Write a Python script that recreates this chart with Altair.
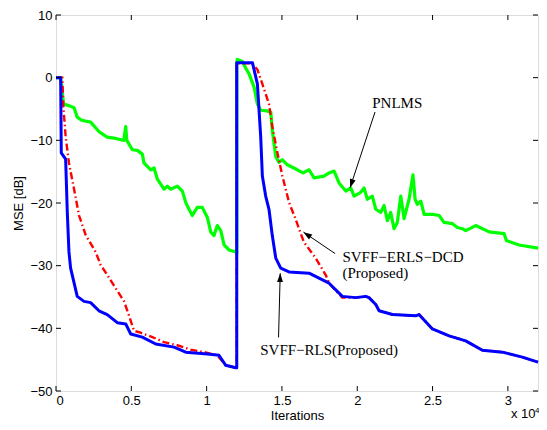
import altair as alt
import pandas as pd
import numpy as np

# ---------------- data ----------------
pnlms_x = [0, 300, 400, 500, 900, 1200, 1410, 1700, 2300, 2850, 3400, 3960, 4500, 4630, 4700,
           5070, 5400, 5730, 5840, 6290, 6510, 6730, 7170, 7390, 7610, 8050, 8390, 8610, 8830,
           9050, 9380, 9710, 10050, 10270, 10490, 10710, 10940, 11160, 11490, 11930, 12000,
           12000, 12040, 12370, 12600, 12820, 13150, 13370, 13590, 14000, 14260, 14360, 14590,
           14800, 15030, 15360, 16020, 16400, 16800, 17130, 17790, 18130, 18460, 18570, 18790,
           19240, 19570, 19790, 20230, 20450, 20670, 21000, 21230, 21560, 21780, 22000, 22220,
           22440, 22660, 22890, 23110, 23440, 23700, 23840, 23990, 24220, 24440, 24990, 25430,
           25760, 26320, 26650, 26980, 27200, 27870, 28750, 29750, 29900, 30740, 32000]
pnlms_y = [0, 0, -2.0, -4.2, -4.5, -4.8, -6.3, -6.8, -7.1, -8.6, -9.5, -9.7, -10.0, -7.8, -10.0,
           -11.5, -11.6, -12.2, -13.6, -14.7, -14.4, -16.2, -17.8, -17.3, -17.8, -17.3, -18.1, -19.9, -21.0,
           -22.0, -20.7, -20.7, -22.3, -24.6, -25.2, -23.6, -24.4, -26.7, -27.5, -27.8, -28.0,
           2.5, 2.9, 2.6, 1.5, 0.6, -1.5, -4.2, -5.2, -5.3, -5.5, -8.4, -12.6,
           -13.5, -13.1, -13.9, -14.7, -15.2, -14.7, -16.0, -15.7, -15.2, -14.9, -15.5, -16.8,
           -18.1, -17.6, -18.9, -18.3, -17.6, -19.4, -18.9, -21.0, -21.5, -20.4, -22.8, -21.5,
           -24.1, -23.1, -18.9, -22.5, -19.4, -15.5, -19.4, -20.2, -19.7, -21.8, -21.8, -22.0,
           -23.1, -23.3, -23.9, -24.1, -24.4, -23.6, -24.6, -24.9, -26.0, -26.7, -27.2]

erls_x = [0, 420, 490, 640, 860, 1200, 1530, 1970, 2630, 2970, 3410, 3960, 4520, 4850, 5180,
          5620, 6400, 7170, 8050, 8940, 9830, 10710, 11270, 11930, 12000,
          12000, 13000, 13370, 13700, 14140, 14360, 14700, 15030, 15470, 15910, 16450, 17240,
          17910, 18130, 19010, 19900, 20570, 20780, 21230, 21450, 22330, 23880, 24100, 24990,
          26100, 27200, 28310, 29640, 30960, 32000]
erls_y = [0, 0, -4.7, -9.4, -13.6, -17.8, -22.0, -25.1, -27.8, -29.9, -31.5, -33.6, -35.7, -38.0, -40.4,
          -40.7, -41.4, -42.2, -42.7, -43.4, -43.8, -44.3, -45.9, -46.3, -46.3,
          2.3, 2.3, 1.3, -1.0, -4.2, -7.8, -12.0, -15.7, -19.9, -22.6, -26.2, -28.8,
          -31.5, -32.8, -35.1, -35.1, -34.9, -35.1, -36.2, -37.2, -37.8, -38.0, -37.8, -40.1,
          -41.2, -42.0, -43.5, -43.8, -44.6, -45.4]

rls_x = [0, 310, 350, 640, 750, 860, 970, 1410, 1860, 2300, 2850, 3400, 4070, 4630, 4960,
         5730, 6620, 7840, 8610, 10050, 10820, 11270, 11930, 12000,
         12000, 13040, 13370, 13480, 13590, 13700, 13920, 14140, 14360, 14590, 14920, 15470,
         16800, 17460, 18130, 19010, 19900, 20570, 20780, 21230, 21450, 22330, 23880, 24100,
         24990, 26100, 27200, 28310, 29640, 30960, 32000]
rls_y = [0, 0, -12.0, -13.0, -21.5, -27.8, -30.4, -34.9, -35.7, -35.9, -37.2, -37.8, -39.1, -39.3, -40.9,
         -41.4, -42.5, -43.0, -43.8, -44.1, -44.3, -45.9, -46.3, -46.3,
         2.4, 2.4, -1.0, -5.2, -9.4, -15.7, -18.9, -21.0, -25.2, -28.8, -30.4, -31.0,
         -31.2, -32.0, -32.8, -34.9, -35.1, -34.9, -35.1, -36.2, -37.2, -37.8, -38.0, -37.8,
         -40.1, -41.2, -42.0, -43.5, -43.8, -44.6, -45.4]

x_ticks = [0, 5000, 10000, 15000, 20000, 25000, 30000]
y_ticks = [-50, -40, -30, -20, -10, 0, 10]

# annotations: text labels and arrows (start -> tip), in data units
label_text = ["PNLMS", "SVFF\u2212ERLS\u2212DCD", "(Proposed)", "SVFF\u2212RLS(Proposed)"]
label_x = [22658, 19014, 19014, 13561]
label_y = [-4.1, -28.6, -31.1, -43.47]
label_align = ["center", "left", "left", "left"]

arrow_x1 = [21180, 18530, 14774]
arrow_y1 = [-5.48, -28.07, -41.45]
arrow_x2 = [19524, 16430, 14886]
arrow_y2 = [-17.56, -24.65, -31.22]

# ---------------- chart ----------------
W, H = 482, 376
X_MAX = 32000
Y_MIN, Y_MAX = -50, 10
FONT = "Liberation Sans"
SERIF = "Liberation Serif"

xs = alt.Scale(domain=[0, X_MAX], nice=False, zero=False)
ys = alt.Scale(domain=[Y_MIN, Y_MAX], nice=False, zero=False)


def sdf(xv, yv):
    return pd.DataFrame({"x": xv, "y": yv, "i": list(range(len(xv)))})


x_axis = alt.Axis(values=x_ticks, labelExpr="'' + datum.value / 10000", ticks=False,
                  domain=False, grid=False, labelPadding=3, labelFontSize=13, labelFont=FONT,
                  labelColor="black", title="Iterations", titleFont=FONT, titleFontSize=13,
                  titleFontWeight="normal", titleColor="black", titleY=28,
                  titleBaseline="alphabetic")
y_axis = alt.Axis(values=y_ticks, ticks=False, domain=False, grid=False, labelPadding=4,
                  labelFontSize=13, labelFont=FONT, labelColor="black", title="MSE [dB]",
                  titleFont=FONT, titleFontSize=13, titleFontWeight="normal",
                  titleColor="black", titleX=-38, titleBaseline="middle")

green = alt.Chart(sdf(pnlms_x, pnlms_y)).mark_line(
    color="#00ff00", strokeWidth=3.2, strokeJoin="round").encode(
    x=alt.X("x:Q", scale=xs, axis=x_axis),
    y=alt.Y("y:Q", scale=ys, axis=y_axis),
    order="i:Q")

red = alt.Chart(sdf(erls_x, erls_y)).mark_line(
    color="#ff0000", strokeWidth=2.4, strokeDash=[7, 3, 1.5, 3]).encode(
    x=alt.X("x:Q", scale=xs), y=alt.Y("y:Q", scale=ys), order="i:Q")

blue = alt.Chart(sdf(rls_x, rls_y)).mark_line(
    color="#0000ff", strokeWidth=3, strokeJoin="round").encode(
    x=alt.X("x:Q", scale=xs), y=alt.Y("y:Q", scale=ys), order="i:Q")

# inward ticks on all four sides (MATLAB style)
xt = pd.DataFrame({"t": x_ticks})
yt = pd.DataFrame({"t": y_ticks})
tick_style = dict(color="black", strokeWidth=1)
xt_bot = alt.Chart(xt).mark_rule(**tick_style).encode(
    x=alt.X("t:Q", scale=xs), y=alt.value(H), y2=alt.value(H - 5))
xt_top = alt.Chart(xt).mark_rule(**tick_style).encode(
    x=alt.X("t:Q", scale=xs), y=alt.value(0), y2=alt.value(5))
yt_left = alt.Chart(yt).mark_rule(**tick_style).encode(
    y=alt.Y("t:Q", scale=ys), x=alt.value(0), x2=alt.value(5))
yt_right = alt.Chart(yt).mark_rule(**tick_style).encode(
    y=alt.Y("t:Q", scale=ys), x=alt.value(W), x2=alt.value(W - 5))

# annotations
lab = pd.DataFrame({"text": label_text, "x": label_x, "y": label_y, "align": label_align})
lab_c = alt.Chart(lab[lab["align"] == "center"]).mark_text(
    font=SERIF, fontSize=15, color="black", align="center", baseline="middle").encode(
    x=alt.X("x:Q", scale=xs), y=alt.Y("y:Q", scale=ys), text="text:N")
lab_l = alt.Chart(lab[lab["align"] == "left"]).mark_text(
    font=SERIF, fontSize=15, color="black", align="left", baseline="middle").encode(
    x=alt.X("x:Q", scale=xs), y=alt.Y("y:Q", scale=ys), text="text:N")

arr = pd.DataFrame({"x1": arrow_x1, "y1": arrow_y1, "x2": arrow_x2, "y2": arrow_y2})
px_per_x = W / X_MAX
px_per_y = H / (Y_MAX - Y_MIN)
dxp = (arr["x2"] - arr["x1"]) * px_per_x
dyp = -(arr["y2"] - arr["y1"]) * px_per_y
arr["angle"] = np.degrees(np.arctan2(dxp, -dyp)) % 360

shafts = alt.Chart(arr).mark_rule(color="black", strokeWidth=1).encode(
    x=alt.X("x1:Q", scale=xs), y=alt.Y("y1:Q", scale=ys), x2="x2:Q", y2="y2:Q")
heads = alt.Chart(arr).mark_point(
    shape="M0,0 L0.34,1 L-0.34,1 Z", filled=True, color="black", opacity=1,
    size=300, strokeWidth=0).encode(
    x=alt.X("x2:Q", scale=xs), y=alt.Y("y2:Q", scale=ys),
    angle=alt.Angle("angle:Q", scale=None))

# "x 10^4" exponent note under the right end of the x axis
exp_base = alt.Chart(pd.DataFrame({"t": ["x 10"]})).mark_text(
    font=FONT, fontSize=13, color="black", align="left", baseline="alphabetic").encode(
    x=alt.value(455), y=alt.value(403), text="t:N")
exp_sup = alt.Chart(pd.DataFrame({"t": ["4"]})).mark_text(
    font=FONT, fontSize=8, color="black", align="left", baseline="alphabetic").encode(
    x=alt.value(479), y=alt.value(398), text="t:N")

chart = alt.layer(
    green, red, blue, xt_bot, xt_top, yt_left, yt_right,
    shafts, heads, lab_c, lab_l, exp_base, exp_sup
).properties(
    width=W, height=H,
    autosize=alt.AutoSizeParams(type="none"),
    padding={"left": 48, "top": 7, "right": 1, "bottom": 31},
).configure_view(
    stroke="black", strokeWidth=1
).configure(background="white")

chart.save("out.html", embed_options={"renderer": "svg", "actions": False})
